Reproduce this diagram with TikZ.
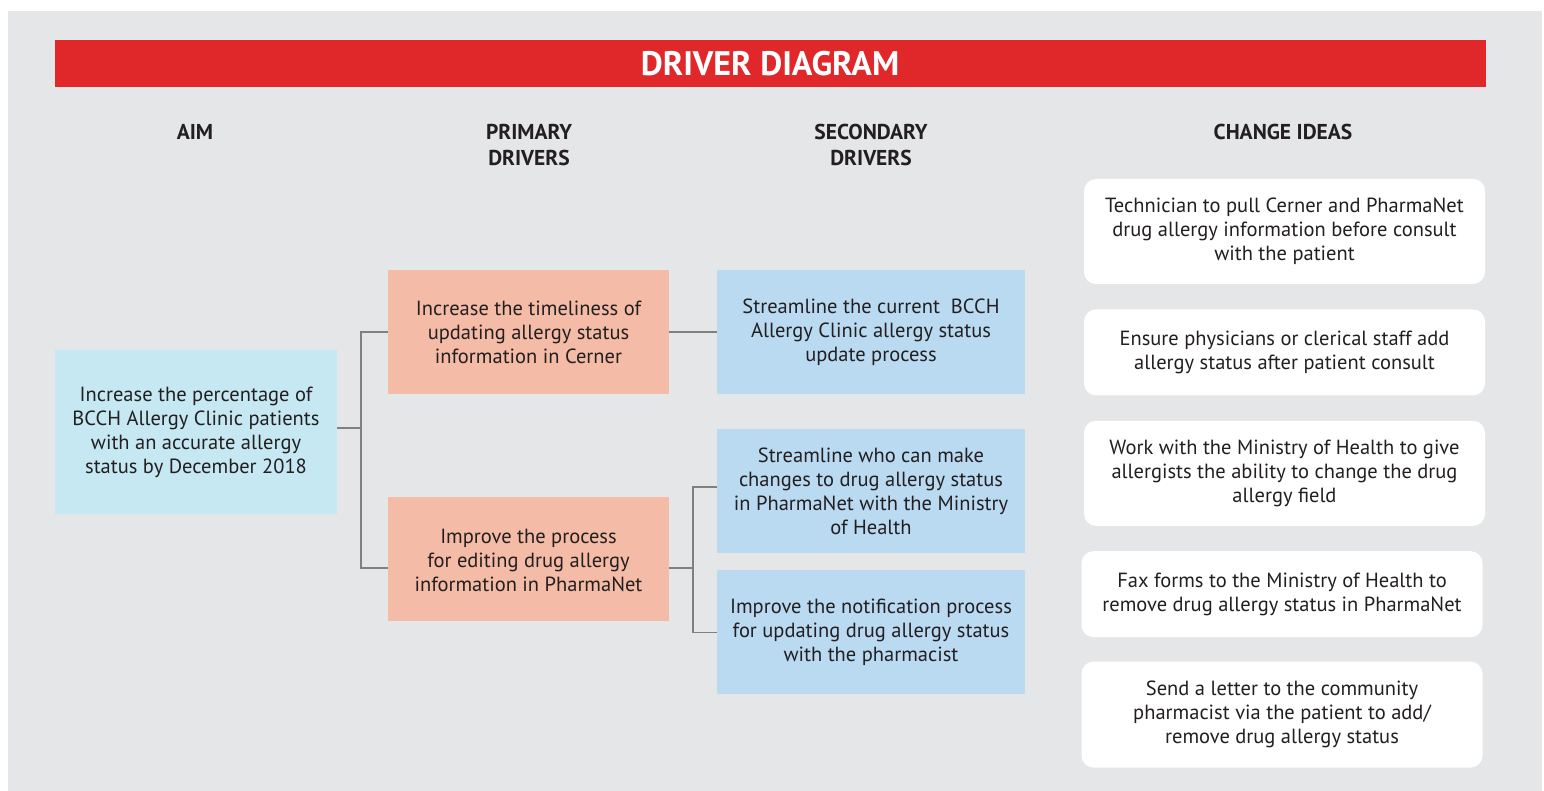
\documentclass[tikz,border=0pt]{standalone}
\usepackage{fontspec}
\setmainfont{PT Sans}
\usetikzlibrary{positioning}
\definecolor{pagegrey}{HTML}{E5E6E8}
\definecolor{bannerred}{HTML}{E0282A}
\definecolor{aimblue}{HTML}{C6E8F2}
\definecolor{secblue}{HTML}{B9DAF1}
\definecolor{salmon}{HTML}{F4BBA7}
\definecolor{inkgrey}{HTML}{231F20}
\tikzset{
  head/.style={font=\fontsize{21.5}{26}\selectfont\bfseries, text=inkgrey, align=center, inner sep=0pt},
  aimbox/.style={fill=aimblue, minimum width=282pt, minimum height=164pt, align=center, inner sep=0pt, text=inkgrey, font=\fontsize{20.5}{24}\selectfont},
  primbox/.style={fill=salmon, minimum width=281pt, minimum height=124pt, align=center, inner sep=0pt, text=inkgrey, font=\fontsize{20.5}{24}\selectfont},
  secbox/.style={fill=secblue, minimum width=308pt, minimum height=124pt, align=center, inner sep=0pt, text=inkgrey, font=\fontsize{20.5}{24}\selectfont},
  idea/.style={fill=white, rounded corners=12pt, minimum width=401pt, align=center, inner sep=0pt, text=inkgrey, font=\fontsize{20.5}{24}\selectfont},
  link/.style={draw=black!50, line width=1.5pt}
}
\begin{document}
\begin{tikzpicture}[x=1pt, y=-1pt]
  \useasboundingbox (0,0) rectangle (1544,791);
  \fill[pagegrey] (8,11) rectangle (1542,791);

  % banner
  \fill[bannerred] (55,40) rectangle (1486,87);
  \node[font=\fontsize{34}{34}\selectfont\bfseries, text=white] (title) at (770,64) {DRIVER DIAGRAM};

  % column heads
  \node[head] (haim) at (195,132) {AIM};
  \node[head] (hprim) at (529,145) {PRIMARY\\DRIVERS};
  \node[head] (hsec) at (871,145) {SECONDARY\\DRIVERS};
  \node[head] (hidea) at (1283,132) {CHANGE IDEAS};

  % aim
  \node[aimbox] (aim) at (196,432) {Increase the percentage of\\BCCH Allergy Clinic patients\\with an accurate allergy\\status by December 2018};

  % primary drivers
  \node[primbox] (pd1) at (528.5,332) {Increase the timeliness of\\updating allergy status\\information in Cerner};
  \node[primbox] (pd2) at (528.5,559) {\\[-6pt]Improve the process\\for editing drug allergy\\information in PharmaNet};

  % secondary drivers
  \node[secbox] (sd1) at (871,332) {Streamline the current\ \ BCCH\\Allergy Clinic allergy status\\update process};
  \node[secbox] (sd2) at (871,491) {Streamline who can make\\changes to drug allergy status\\in PharmaNet with the Ministry\\of Health};
  \node[secbox, below=17pt of sd2] (sd3) {Improve the notification process\\for updating drug allergy status\\with the pharmacist};

  % change ideas
  \node[idea, minimum height=105pt] (ci1) at (1284.5,231.5) {Technician to pull Cerner and PharmaNet\\drug allergy information before consult\\with the patient};
  \node[idea, minimum height=86pt, below=25pt of ci1] (ci2) {Ensure physicians or clerical staff add\\allergy status after patient consult};
  \node[idea, minimum height=105pt, below=25pt of ci2] (ci3) {Work with the Ministry of Health to give\\allergists the ability to change the drug\\allergy field};
  \node[idea, minimum height=86pt, below=25pt of ci3, xshift=-2.5pt] (ci4) {Fax forms to the Ministry of Health to\\remove drug allergy status in PharmaNet};
  \node[idea, minimum height=106pt, below=24pt of ci4] (ci5) {Send a letter to the community\\pharmacist via the patient to add/\\remove drug allergy status};

  % connectors
  \draw[link] ([yshift=4pt]aim.east) -- ++(24,0) |- (pd1.west);
  \draw[link] ([yshift=4pt]aim.east) -- ++(24,0) |- ([yshift=-9pt]pd2.west);
  \draw[link] (pd1.east) -- (sd1.west);
  \draw[link] ([yshift=-9pt]pd2.east) -- ++(24,0) |- ([yshift=4pt]sd2.west);
  \draw[link] ([yshift=-9pt]pd2.east) -- ++(24,0) |- (sd3.west);
\end{tikzpicture}
\end{document}
